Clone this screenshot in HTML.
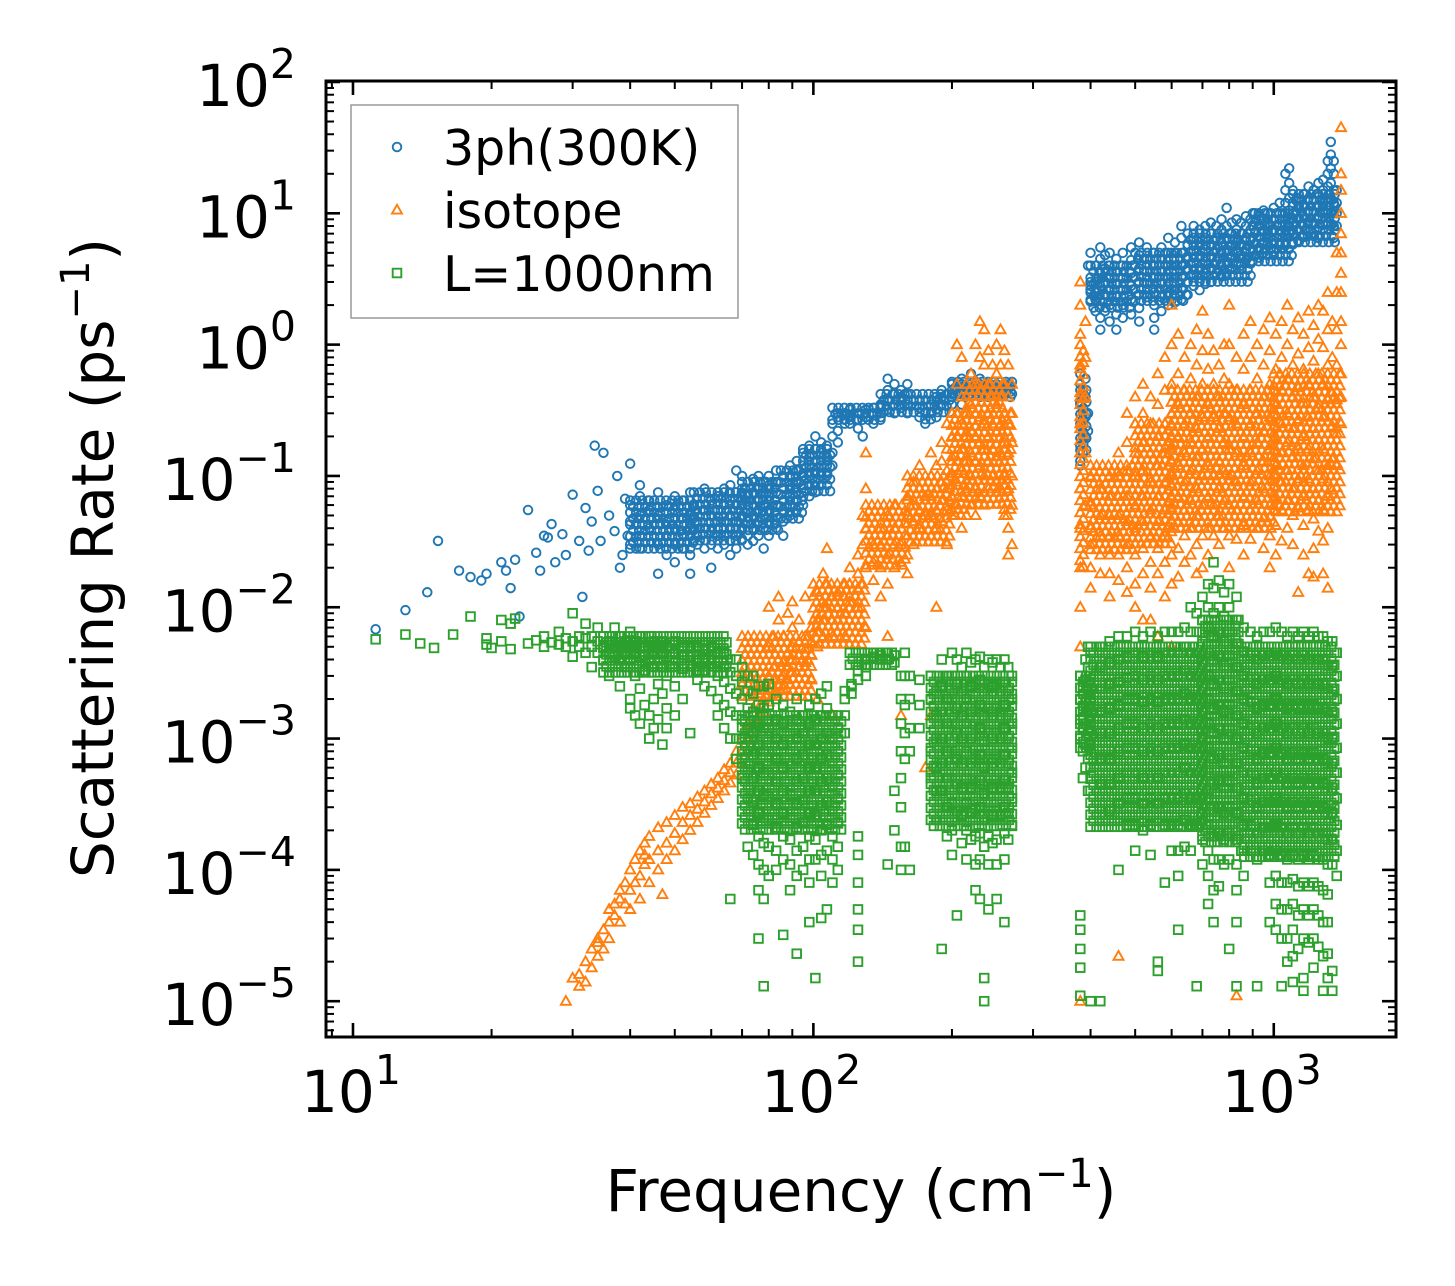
<!DOCTYPE html>
<html><head><meta charset="utf-8"><style>
html,body{margin:0;padding:0;background:#fff;}
svg{display:block;font-family:"DejaVu Sans","Liberation Sans",sans-serif;}
</style></head><body>
<svg id="chart" width="1455" height="1286" viewBox="0 0 1455 1286" xmlns="http://www.w3.org/2000/svg">
<rect width="1455" height="1286" fill="#fff"/>
<g id="marks"></g>
<g id="axes"></g>
</svg>
<script>
// ---- data: [frequency (cm^-1), [scattering rates (ps^-1)]] ----
const ph3Data = [
[11.2,[0.0068]],[13,[0.0095]],[14.5,[0.013]],[15.3,[0.032]],[17,[0.019]],[18,[0.017]],[19,[0.016]],[19.5,[0.018]],[21,[0.022]],[21.5,[0.019]],[22,[0.014]],[22.5,[0.023]],[23,[0.0085]],[24,[0.055]],[25,[0.026]],[25.5,[0.019]],[26,[0.035]],[26.5,[0.034]],[27,[0.043]],[27.5,[0.022]],[28.5,[0.036]],[29,[0.025]],[30,[0.072]],[31,[0.032]],[31.5,[0.012]],[32,[0.057]],[32.5,[0.027]],[33,[0.045]],[33.5,[0.17]],[34,[0.077]],[34.5,[0.032]],[35,[0.15]],[36,[0.05]],[37,[0.038]],[37.5,[0.1]],[38,[0.02]],[38.5,[0.025]],[39,[0.067]],[39.5,[0.035]],
[40,[0.124,0.06,0.045,0.03]],[42,[0.085,0.07,0.05,0.035,0.028]],[44,[0.055,0.04,0.065]],[46,[0.075,0.05,0.03,0.018]],[48,[0.06,0.045,0.035,0.025]],[50,[0.07,0.055,0.04,0.03,0.022]],[52,[0.065,0.048,0.036,0.028]],[54,[0.075,0.05,0.04,0.025,0.018]],[56,[0.06,0.045,0.035,0.03]],[58,[0.08,0.055,0.04,0.028]],[60,[0.065,0.05,0.038,0.03,0.02]],[62,[0.07,0.055,0.045,0.035,0.028]],[64,[0.08,0.06,0.045,0.035,0.03]],[66,[0.085,0.065,0.05,0.04,0.032,0.025]],[68,[0.11,0.075,0.06,0.045,0.035,0.028]],[70,[0.1,0.08,0.065,0.05,0.04,0.033]],[72,[0.09,0.07,0.055,0.045,0.035,0.03]],[74,[0.095,0.075,0.06,0.05,0.04,0.032]],[76,[0.1,0.08,0.065,0.055,0.045,0.035]],[78,[0.09,0.075,0.06,0.05,0.04,0.028]],[80,[0.1,0.085,0.07,0.055,0.045,0.035]],[83,[0.11,0.09,0.075,0.06,0.05,0.04]],[86,[0.1,0.08,0.065,0.055,0.045,0.035]],[89,[0.12,0.1,0.085,0.07,0.06,0.05]],[92,[0.13,0.11,0.09,0.075,0.065,0.055]],[95,[0.15,0.12,0.1,0.085,0.07,0.06]],[98,[0.17,0.14,0.12,0.1,0.085,0.07]],[101,[0.2,0.16,0.13,0.11,0.09,0.075]],[104,[0.18,0.15,0.12,0.1,0.085]],[107,[0.17,0.14,0.12,0.1]],[110,[0.25,0.2,0.15,0.12]],
[113,[0.28,0.22,0.18,0.3]],[117,[0.3,0.27,0.25]],[120,[0.32,0.28,0.25]],[125,[0.3,0.27,0.23]],[128,[0.2]],[130,[0.32,0.28,0.3]],[135,[0.33,0.3,0.25]],[140,[0.35,0.3,0.28]],[145,[0.55,0.45,0.38,0.32]],[150,[0.5,0.42,0.35,0.3]],[155,[0.45,0.4,0.33]],[160,[0.5,0.42,0.35,0.3]],[170,[0.38,0.33,0.28]],[175,[0.3,0.27,0.25]],[180,[0.35,0.3,0.27]],[185,[0.4,0.32,0.28]],[190,[0.45,0.4,0.35]],[200,[0.5,0.45,0.4,0.35]],[210,[0.55,0.5,0.42,0.35]],[220,[0.6,0.5,0.45]],[230,[0.55,0.5,0.45,0.4]],[240,[0.5,0.45,0.4]],[250,[0.5,0.45,0.42]],[260,[0.5,0.45,0.42]],[268,[0.48,0.44,0.4]],
[380,[0.6,0.5,0.35,0.25,0.17,0.13,0.12]],[385,[0.45,0.3,0.2,0.15]],[390,[0.55,0.4,0.28,0.2]],[395,[4,0.3,0.22]],[400,[5,3,2.5,2.2,2.8]],[410,[4,3,2.5,2.2,1.8]],[420,[5.5,4.5,3.5,2.8,2.2,1.6,1.3]],[430,[4.8,3.8,3,2.4,1.8]],[440,[5,4,3.2,2.6,2,1.5]],[455,[4.5,3.6,2.9,2.3,1.7,1.3]],[470,[5,4,3.2,2.6,2,1.6]],[490,[5.5,4.4,3.5,2.8,2.2,1.7]],[510,[6,4.8,3.8,3,2.4,1.9,1.5]],[530,[5.5,4.5,3.6,2.9,2.3]],[550,[5,4,3.2,2.5,2,1.6,1.3]],[570,[5.5,4.5,3.6,2.9,2.3,1.8]],[590,[6.5,5,4,3.2,2.5,2]],[610,[6,5,4,3.2,2.6,2.1]],[630,[8,6.5,5,4,3.3,2.7,2.2]],[650,[7,5.8,4.7,3.8,3,2.4]],[670,[8,6.5,5.2,4.2,3.4,2.8]],[690,[7.5,6,4.8,3.9,3.2,2.6]],[710,[8,6.5,5.3,4.3,3.5,2.9]],[730,[8.5,7,5.7,4.6,3.8,3]],[750,[8,6.5,5.3,4.3,3.5]],[770,[9,7.5,6,5,4,3.3]],[790,[11,8,6.5,5.3,4.3,3.5]],[810,[8.5,7,5.7,4.6,3.8]],[830,[9,7.5,6,5,4.2]],[850,[8.5,7,5.8,4.8,4]],[870,[9.5,8,6.5,5.3,4.4]],[890,[9,7.5,6.2,5.1,4.3]],[910,[10,8.5,7,5.8,4.8]],[930,[9.5,8,6.6,5.5,4.6]],[950,[10.5,8.8,7.3,6,5]],[970,[10,8.5,7,5.8,4.8]],[1000,[11,9,7.5,6.2,5.1]],[1030,[12,10,8.3,6.9,5.7]],[1060,[20,15,12,10,8.3,6.9,5.7]],[1080,[22,17,13,10.5,8.5,7]],[1100,[15,12,10,8.5,7,5.8]],[1130,[13,11,9,7.5,6.2]],[1160,[14,11.5,9.5,8,6.6]],[1190,[16,13,10.5,8.7,7.2]],[1220,[15,12.5,10.3,8.5,7]],[1250,[17,14,11.5,9.5,7.8,6.5]],[1280,[18,15,12,10,8.2]],[1310,[25,20,16,13,10.5,8.5]],[1330,[35,28,22,17,13,10,8]],[1350,[25,20,15,12,10,8,6.5]],[1370,[15,12,10,8]]
];
const isoData = [
[29,[1e-5]],[30,[1.5e-5]],[31,[1.6e-5,1.3e-5]],[32,[1.4e-5,2e-5]],[33,[1.8e-5,2.5e-5]],[34,[2.8e-5,3e-5,2.2e-5]],[35,[3.5e-5,2.5e-5]],[36,[4e-5,5e-5,3e-5]],[37,[5.5e-5,4.5e-5]],[38,[7e-5,6e-5,4e-5]],[39,[8e-5,5.5e-5]],[40,[1e-4,7e-5,5e-5]],[41,[1.2e-4,8e-5]],[42,[1.4e-4,9e-5,6e-5]],[43,[1.6e-4,1.1e-4,1.3e-4]],[44,[1.8e-4,1.2e-4,8e-5]],[46,[2.1e-4,1.4e-4,1e-4]],[47,[6.5e-5]],[48,[2.3e-4,1.6e-4,1.2e-4]],[50,[2.6e-4,1.9e-4,1.4e-4]],[52,[3e-4,2.3e-4,1.7e-4]],[54,[3.2e-4,2.6e-4,2e-4]],[56,[3.6e-4,2.9e-4,2.3e-4]],[58,[4e-4,3.3e-4,2.7e-4]],[60,[4.5e-4,3.8e-4,3.1e-4]],[62,[5e-4,4.2e-4,3.5e-4]],[64,[5.8e-4,4.8e-4,4e-4]],[66,[6.5e-4,5.5e-4,4.6e-4]],[68,[8e-4,6.5e-4,5.3e-4]],[70,[1e-3,8e-4,6.5e-4]],[72,[1.3e-3,1e-3,8e-4]],[74,[1.7e-3,1.3e-3,1e-3]],[76,[2.2e-3,1.7e-3,1.3e-3]],[78,[2.5e-3,2e-3,1.6e-3]],[80,[3e-3,2.4e-3,1.9e-3,5e-3,1e-2]],[82,[3.5e-3,2.8e-3,2.2e-3,6e-3]],[84,[4e-3,3.2e-3,2.5e-3,1.2e-2,8e-3]],[86,[3.8e-3,3e-3,2.4e-3,6e-3]],[88,[4.5e-3,3.5e-3,2.8e-3,9e-3]],[90,[5e-3,4e-3,3.2e-3,7e-3,1.1e-2]],[93,[5.5e-3,4.3e-3,3.5e-3,8e-3]],[96,[6e-3,4.8e-3,3.8e-3,1.2e-2]],[99,[7e-3,5.5e-3,4.3e-3,2.8e-3]],[102,[8e-3,6.5e-3,5e-3,1.3e-2,2e-3]],[105,[1e-2,8e-3,6e-3,1.8e-2]],[107,[1.5e-2,1e-2,2.8e-2]],[110,[1.2e-2,8e-3,6e-3,1.5e-3]],[113,[1.3e-2,1e-2,8e-3]],[117,[1.5e-2,1.2e-2,9e-3,6e-3]],[120,[2e-2,1.5e-2,1.1e-2]],[125,[2.5e-2,1.8e-2,1.4e-2,1e-2]],[128,[5e-2,3e-2,1.5e-2]],[130,[1.5e-1,8e-2,4e-2,2e-2,7e-3]],[135,[3e-2,2.2e-2,1.6e-2]],[140,[4e-2,3e-2,2e-2,1.2e-2]],[145,[5e-2,3.5e-2,2.5e-2,1.5e-2,6e-3]],[150,[6e-2,4e-2,3e-2,2e-2]],[155,[3e-2,2.2e-2,1.5e-3]],[160,[7e-2,5e-2,3.5e-2,2.5e-2,1.8e-2]],[165,[9e-2,6e-2,4.5e-2,3e-2]],[170,[1.2e-1,8e-2,5.5e-2,4e-2]],[175,[7e-2,5e-2,3.5e-2,6e-4]],[180,[1.5e-1,1e-1,7e-2,5e-2,3.5e-2,1.5e-3]],[185,[1.2e-1,8e-2,5.5e-2,4e-2,1e-2]],[190,[1.8e-1,1.3e-1,9e-2,6.5e-2,4.5e-2]],[195,[2.5e-1,1.6e-1,1.1e-1,8e-2,5.5e-2,3e-2]],[200,[3e-1,2e-1,1.4e-1,1e-1,7e-2,5e-2]],[205,[1,5e-1,3e-1,2e-1,1.3e-1,9e-2,6e-2]],[210,[8e-1,4e-1,2.5e-1,1.6e-1,1.1e-1,7e-2,4e-2]],[215,[5e-1,3e-1,2e-1,1.3e-1,8e-2,5e-2]],[220,[6e-1,3.5e-1,2.2e-1,1.5e-1,1e-1,6e-2]],[225,[1,5e-1,3e-1,2e-1,1.3e-1,8e-2,5e-2]],[230,[1.5,8e-1,4.5e-1,2.8e-1,1.8e-1,1.2e-1,7e-2]],[235,[1.3,7e-1,4e-1,2.5e-1,1.6e-1,1e-1,6e-2]],[240,[9e-1,5e-1,3e-1,2e-1,1.3e-1,8e-2]],[245,[7e-1,4e-1,2.5e-1,1.6e-1,1e-1]],[250,[1,6e-1,3.5e-1,2.2e-1,1.4e-1,9e-2]],[255,[1.3,7e-1,4e-1,2.5e-1,1.5e-1,8e-2]],[260,[9e-1,5e-1,3e-1,1.8e-1,1e-1,5e-2]],[265,[7e-1,4e-1,2.5e-1,1.5e-1,8e-2,4e-2,2.5e-2]],[270,[5e-1,3e-1,1.8e-1,1e-1,6e-2,3e-2]],
[380,[3,2,1.2,7e-1,4e-1,2.5e-1,1.5e-1,8e-2,4e-2,2e-2,1e-2,5e-3,1e-5]],[390,[1.5,8e-1,4e-1,1.5e-1,6e-2]],[400,[1e-1,6e-2,4e-2,3e-2,2e-2,1.4e-2]],[420,[8e-2,5e-2,3.5e-2,2.5e-2,1.8e-2]],[440,[1e-1,7e-2,5e-2,3.5e-2,2.5e-2,1.8e-2,1.2e-2]],[460,[1.5e-1,1e-1,7e-2,5e-2,3.5e-2,2.5e-2,1.6e-2,2.2e-5]],[480,[3e-1,1.8e-1,1.1e-1,7e-2,4.5e-2,3e-2,2e-2,1.3e-2]],[500,[4e-1,2.5e-1,1.5e-1,1e-1,6e-2,4e-2,2.5e-2,1.5e-2,1e-2]],[520,[5e-1,3e-1,1.8e-1,1.1e-1,7e-2,4.5e-2,2.8e-2,1.8e-2,8e-3]],[540,[4e-1,2.5e-1,1.5e-1,9e-2,5.5e-2,3.5e-2,2.2e-2,1.4e-2,8e-3]],[560,[6e-1,3.5e-1,2e-1,1.2e-1,7e-2,4.5e-2,2.8e-2,1.8e-2,6e-3]],[580,[8e-1,4.5e-1,2.5e-1,1.5e-1,9e-2,5.5e-2,3.5e-2,2.2e-2,1.2e-2]],[600,[2,1,5e-1,3e-1,1.7e-1,1e-1,6e-2,4e-2,2.5e-2,1.5e-2,5e-3]],[620,[1.2,6e-1,3.5e-1,2e-1,1.2e-1,7e-2,4.5e-2,2.8e-2,1.7e-2]],[640,[8e-1,4.5e-1,2.5e-1,1.5e-1,9e-2,5.5e-2,3.5e-2,2.2e-2]],[660,[1,5.5e-1,3e-1,1.8e-1,1.1e-1,6.5e-2,4e-2,2.5e-2]],[680,[1.3,7e-1,4e-1,2.3e-1,1.4e-1,8e-2,5e-2,3e-2,1.8e-2]],[700,[1.8,9e-1,5e-1,2.8e-1,1.6e-1,1e-1,6e-2,3.5e-2,2e-2]],[720,[1.2,6.5e-1,3.5e-1,2e-1,1.2e-1,7e-2,4e-2,2.5e-2]],[740,[9e-1,5e-1,2.8e-1,1.6e-1,1e-1,6e-2,3.5e-2]],[760,[7e-1,4e-1,2.3e-1,1.3e-1,8e-2,5e-2,3e-2]],[780,[1,5.5e-1,3e-1,1.8e-1,1.1e-1,6.5e-2,4e-2]],[800,[2,1,5e-1,2.8e-1,1.6e-1,1e-1,6e-2,3.5e-2,2e-2]],[830,[8e-1,4.5e-1,2.5e-1,1.5e-1,9e-2,5.5e-2,3.3e-2,1.1e-5]],[860,[1.2,6.5e-1,3.5e-1,2e-1,1.2e-1,7e-2,4.2e-2,2.5e-2]],[890,[1.5,8e-1,4.5e-1,2.5e-1,1.5e-1,9e-2,5.5e-2,3.3e-2]],[920,[1,5.5e-1,3e-1,1.8e-1,1.1e-1,6.5e-2,4e-2]],[950,[1.3,7e-1,4e-1,2.2e-1,1.3e-1,8e-2,4.8e-2,2.8e-2]],[980,[1.6,9e-1,5e-1,2.8e-1,1.6e-1,1e-1,6e-2,3.5e-2,2e-2]],[1010,[1.2,6.5e-1,3.5e-1,2e-1,1.2e-1,7e-2,4.2e-2,2.5e-2]],[1040,[1.5,8e-1,4.5e-1,2.5e-1,1.5e-1,9e-2,5.5e-2,3.2e-2]],[1070,[2,1,5.5e-1,3e-1,1.8e-1,1.1e-1,6.5e-2,4e-2]],[1100,[1.3,7e-1,4e-1,2.3e-1,1.4e-1,8e-2,5e-2,3e-2]],[1130,[1.6,8.5e-1,4.7e-1,2.7e-1,1.6e-1,9.5e-2,5.7e-2,1.3e-2]],[1160,[1.2,6.5e-1,3.6e-1,2e-1,1.2e-1,7e-2,4.2e-2,2.5e-2]],[1190,[1.8,9.5e-1,5e-1,2.8e-1,1.6e-1,9.5e-2,5.5e-2,1.8e-2]],[1220,[1.4,7.5e-1,4e-1,2.3e-1,1.35e-1,8e-2,4.7e-2,2.8e-2,1.7e-2]],[1250,[2,1.1,6e-1,3.3e-1,1.9e-1,1.1e-1,6.5e-2,3.8e-2]],[1280,[1.8,9.5e-1,5e-1,2.8e-1,1.6e-1,9.5e-2,5.5e-2,3.2e-2,1.8e-2]],[1310,[2.5,1.3,7e-1,3.8e-1,2.1e-1,1.2e-1,7e-2,4e-2,1.4e-2]],[1340,[1.5,8e-1,4.3e-1,2.4e-1,1.35e-1,7.8e-2]],[1370,[5,2.5,1.3,7e-1,3.8e-1,2.1e-1,1.2e-1]],[1400,[45,20,15,10,7,5,3.5,2.5,1.5,1,6e-1,4e-1,2.5e-1]]
];
const bdyData = [
[11.2,[5.7e-3]],[13,[6.2e-3]],[14,[5.3e-3]],[15,[4.9e-3]],[16.5,[6.2e-3]],[18,[8.5e-3]],[19.5,[5.8e-3,5.2e-3]],[20,[4.9e-3]],[21,[8e-3,5.5e-3]],[22,[7.5e-3,4.8e-3]],[22.5,[8.2e-3]],[24,[5.3e-3]],[25,[5.6e-3]],[26,[6e-3,5e-3]],[27,[5.4e-3]],[28,[6.5e-3,5.2e-3]],[29,[5e-3,5.8e-3]],[30,[9e-3,5.5e-3,4.2e-3]],[31,[6e-3,5e-3]],[32,[7.5e-3,5.8e-3,4.5e-3]],[33,[6e-3,5e-3,3.5e-3]],[34,[7e-3,5.5e-3,4.5e-3]],[35,[6e-3,5e-3,4e-3]],[36,[5.5e-3,4.5e-3,3e-3]],[37,[7e-3,5e-3,4.2e-3]],[38,[6e-3,5e-3,4e-3,2.5e-3]],[39,[5.5e-3,4.5e-3,3.5e-3]],[40,[6.5e-3,5e-3,4e-3,2e-3,1.7e-3]],[41,[5.5e-3,4.5e-3,3e-3,1.5e-3]],[42,[6e-3,5e-3,4.2e-3,2.4e-3,1.3e-3]],[43,[5e-3,4.3e-3,3.3e-3,1.8e-3]],[44,[6e-3,5e-3,4e-3,1.5e-3,1e-3]],[45,[5.5e-3,4.5e-3,3.5e-3,2e-3,1.2e-3]],[46,[5e-3,4e-3,2.6e-3,1.4e-3]],[47,[5.5e-3,4.5e-3,3.5e-3,2.2e-3,9e-4]],[48,[5e-3,4.2e-3,3e-3,1.7e-3,1.2e-3]],[50,[5.5e-3,4.5e-3,3.5e-3,2.5e-3,1.5e-3]],[52,[5e-3,4.3e-3,3.4e-3,2e-3]],[54,[5e-3,4.2e-3,3.2e-3,1.1e-3]],[56,[5e-3,4e-3,3.3e-3,2.8e-3]],[58,[4.8e-3,4e-3,3.3e-3,2.5e-3]],[60,[5e-3,4e-3,3.2e-3,2.3e-3]],[62,[4.5e-3,3.8e-3,3e-3,2e-3,1.5e-3]],[64,[4.5e-3,3.5e-3,2.7e-3,1.8e-3,1.2e-3]],[66,[4e-3,3.2e-3,2.4e-3,1.6e-3,1e-3,6e-5]],[68,[4e-3,3e-3,2.2e-3,1.5e-3,1e-3,7e-4]],[70,[3.5e-3,2.7e-3,2e-3,1.4e-3,1e-3,7e-4,5e-4]],[72,[3e-3,2.3e-3,1.7e-3,1.2e-3,8e-4,5.5e-4,3.5e-4,1.5e-4]],[74,[3e-3,2.2e-3,1.6e-3,1.1e-3,7.5e-4,5e-4,3.3e-4,2.2e-4,1.3e-4]],[76,[2.5e-3,1.8e-3,1.3e-3,9e-4,6e-4,4e-4,2.7e-4,1.8e-4,1.1e-4,7e-5,3e-5]],[78,[2.5e-3,1.7e-3,1.2e-3,8e-4,5.5e-4,3.7e-4,2.5e-4,1.6e-4,1e-4,6e-5,1.3e-5]],[80,[2.6e-3,1.8e-3,1.2e-3,8e-4,5.5e-4,3.6e-4,2.4e-4,1.5e-4,9e-5]],[83,[2e-3,1.4e-3,1e-3,7e-4,4.7e-4,3.2e-4,2.1e-4,1.4e-4,1e-4]],[86,[1.8e-3,1.3e-3,9e-4,6e-4,4e-4,2.7e-4,1.8e-4,1.2e-4,3.2e-5]],[89,[1.6e-3,1.1e-3,8e-4,5.5e-4,3.7e-4,2.5e-4,1.7e-4,1.1e-4,7e-5]],[92,[2e-3,1.4e-3,1e-3,7e-4,4.7e-4,3.2e-4,2.1e-4,1.4e-4,9e-5,2.3e-5]],[95,[1.5e-3,1.1e-3,7.5e-4,5e-4,3.4e-4,2.3e-4,1.5e-4,1e-4]],[98,[1.8e-3,1.3e-3,9e-4,6e-4,4e-4,2.7e-4,1.8e-4,1.2e-4,8e-5,4e-5]],[101,[2e-3,1.4e-3,9e-4,6e-4,4e-4,2.6e-4,1.7e-4,1.2e-4,1.5e-5]],[104,[2.2e-3,1.5e-3,1e-3,7e-4,4.7e-4,3.1e-4,2e-4,1.3e-4,9e-5,4.3e-5]],[107,[2.5e-3,1.7e-3,1.1e-3,7.5e-4,5e-4,3.3e-4,2.2e-4,1.4e-4,5e-5]],[110,[1.5e-3,1e-3,6.5e-4,4.3e-4,2.8e-4,1.8e-4,1.2e-4,8e-5]],[113,[1.2e-3,8e-4,5.3e-4,3.5e-4,2.3e-4,1.5e-4,1e-4]],[117,[2e-3,1.5e-3,1.1e-3,2.3e-3]],[121,[2.6e-3,2.2e-3,2.5e-3]],[125,[2.8e-3,3.3e-3,1.8e-4,1.3e-4,8e-5,5e-5,3.5e-5,2e-5]],[130,[3.5e-3,4e-3,3e-3]],[135,[4.2e-3,4.5e-3]],[140,[4.3e-3,4e-3]],[145,[4.5e-3,4e-3,1.1e-4]],[150,[4.3e-3,3.8e-3,4e-4,2e-4]],[155,[3e-3,2e-3,1.3e-3,8e-4,5e-4,3e-4,1.5e-4,1e-4]],[158,[4.5e-3,3e-3,1.8e-3,1.1e-3,7e-4,1.5e-4]],[162,[3e-3,2e-3,1.2e-3,8e-4,1e-4]],[170,[2.8e-3,1.8e-3,1.2e-3]],[180,[3e-3,2e-3,1.3e-3,8e-4,5e-4]],[185,[2.3e-3,1.5e-3,1e-3,6e-4,4e-4,2.4e-4]],[190,[4e-3,2.5e-3,1.6e-3,1e-3,6.5e-4,4e-4,2.5e-5]],[195,[3e-3,2e-3,1.3e-3,8e-4,5e-4,3e-4,1.8e-4]],[200,[4.5e-3,3e-3,2e-3,1.3e-3,8e-4,5e-4,3.2e-4,2e-4,1.3e-4]],[205,[4e-3,2.6e-3,1.7e-3,1.1e-3,7e-4,4.5e-4,2.8e-4,4.5e-5]],[210,[3.5e-3,2.3e-3,1.5e-3,1e-3,6.5e-4,4.2e-4,2.6e-4,1.6e-4]],[215,[4.5e-3,3e-3,2e-3,1.3e-3,8e-4,5e-4,3.2e-4,2e-4,1.2e-4]],[220,[3.8e-3,2.5e-3,1.6e-3,1e-3,6.5e-4,4.2e-4,2.7e-4,1.7e-4]],[225,[4e-3,2.6e-3,1.7e-3,1.1e-3,7e-4,4.5e-4,2.9e-4,1.8e-4,1.1e-4,7e-5]],[230,[4.2e-3,2.8e-3,1.8e-3,1.2e-3,7.5e-4,4.8e-4,3e-4,1.9e-4,1.2e-4,6e-5]],[235,[3.5e-3,2.3e-3,1.5e-3,9.5e-4,6e-4,3.8e-4,2.4e-4,1.5e-4,1e-5,1.5e-5]],[240,[4e-3,2.6e-3,1.7e-3,1.1e-3,7e-4,4.5e-4,2.8e-4,1.8e-4,1.1e-4,5e-5]],[245,[3.8e-3,2.5e-3,1.6e-3,1e-3,6.5e-4,4.2e-4,2.6e-4,1.6e-4]],[250,[4e-3,2.6e-3,1.7e-3,1.1e-3,7e-4,4.5e-4,2.8e-4,1.7e-4,1.1e-4,6e-5]],[255,[3.5e-3,2.3e-3,1.5e-3,1e-3,6.5e-4,4.2e-4,2.6e-4]],[260,[4e-3,2.7e-3,1.8e-3,1.2e-3,7.5e-4,4.8e-4,3e-4,1.9e-4,1.2e-4,4e-5]],[265,[3.5e-3,2.3e-3,1.5e-3,1e-3,6.5e-4,4.2e-4,2.7e-4,1.7e-4]],[270,[3e-3,2e-3,1.3e-3,8.5e-4,5.5e-4,3.5e-4,2.2e-4]],
[380,[3e-3,2e-3,1.4e-3,1e-3,4.5e-5,3.5e-5,2.5e-5,1.8e-5,1.1e-5]],[385,[2.5e-3,1.7e-3,1.2e-3,8e-4,5e-4]],[390,[4e-3,2.8e-3,1.9e-3,1.3e-3,9e-4,6e-4]],[395,[5e-3,3.5e-3,2.4e-3,1.6e-3,1.1e-3,7e-4,4e-4]],[400,[4.5e-3,3e-3,2e-3,1.4e-3,9e-4,6e-4,1e-5]],[420,[5e-3,3.5e-3,2.4e-3,1.6e-3,1.1e-3,7e-4,4.5e-4,1e-5]],[440,[5.5e-3,3.8e-3,2.6e-3,1.7e-3,1.1e-3,7e-4,4.5e-4,2.8e-4]],[460,[6e-3,4e-3,2.7e-3,1.8e-3,1.2e-3,8e-4,5e-4,3.2e-4,1e-4]],[480,[6e-3,4.2e-3,2.9e-3,2e-3,1.3e-3,8.5e-4,5.5e-4,3.5e-4,2.2e-4]],[500,[6.5e-3,4.5e-3,3e-3,2e-3,1.3e-3,8.5e-4,5.5e-4,3.5e-4,2.2e-4,1.4e-4]],[520,[6e-3,4.2e-3,2.8e-3,1.9e-3,1.2e-3,8e-4,5e-4,3.2e-4,2e-4]],[540,[6.5e-3,4.5e-3,3e-3,2e-3,1.3e-3,8.5e-4,5.5e-4,3.5e-4,2.2e-4,1.3e-4]],[560,[6e-3,4.2e-3,2.8e-3,1.9e-3,1.2e-3,8e-4,5e-4,3.2e-4,2e-5,1.7e-5]],[580,[6.5e-3,4.5e-3,3e-3,2e-3,1.3e-3,8.5e-4,5.5e-4,3.5e-4,2.2e-4,8e-5]],[600,[6.5e-3,4.5e-3,3e-3,2e-3,1.3e-3,8.5e-4,5.5e-4,3.5e-4,2.2e-4,1.4e-4]],[620,[6.5e-3,4.5e-3,3e-3,2e-3,1.3e-3,8.5e-4,5.5e-4,3.5e-4,2.2e-4,1.4e-4,9e-5,3.5e-5]],[640,[7e-3,5e-3,3.3e-3,2.2e-3,1.4e-3,9e-4,6e-4,3.8e-4,2.4e-4,1.5e-4]],[660,[1e-2,6.5e-3,4.5e-3,3e-3,2e-3,1.3e-3,8.5e-4,5.5e-4,3.5e-4,2.2e-4,1.4e-4]],[680,[9e-3,6.5e-3,4.5e-3,3e-3,2e-3,1.3e-3,8.5e-4,5.5e-4,3.5e-4,2.2e-4,1.3e-5]],[700,[1.2e-2,8e-3,5.5e-3,3.8e-3,2.5e-3,1.6e-3,1e-3,6.5e-4,4.2e-4,2.7e-4,1.7e-4,1.1e-4]],[720,[1.5e-2,1e-2,7e-3,4.5e-3,3e-3,2e-3,1.3e-3,8.5e-4,5.5e-4,3.5e-4,2.2e-4,1.4e-4,9e-5,5.5e-5]],[740,[2.2e-2,1.4e-2,9e-3,6e-3,4e-3,2.6e-3,1.7e-3,1.1e-3,7e-4,4.5e-4,2.9e-4,1.8e-4,1.2e-4,7e-5,4e-5]],[760,[1.6e-2,1e-2,6.5e-3,4.3e-3,2.8e-3,1.8e-3,1.2e-3,7.5e-4,4.8e-4,3e-4,1.9e-4,1.2e-4,7.5e-5]],[780,[1.3e-2,8.5e-3,5.5e-3,3.6e-3,2.4e-3,1.6e-3,1e-3,6.5e-4,4.2e-4,2.7e-4,1.7e-4,1.1e-4]],[800,[1.5e-2,1e-2,6.5e-3,4.3e-3,2.8e-3,1.8e-3,1.2e-3,7.5e-4,4.8e-4,3e-4,1.9e-4,1.2e-4,2.5e-5]],[830,[1.2e-2,8e-3,5.3e-3,3.5e-3,2.3e-3,1.5e-3,1e-3,6.5e-4,4.2e-4,2.7e-4,1.7e-4,1.1e-4,7e-5,4e-5,1.3e-5]],[860,[7e-3,4.6e-3,3e-3,2e-3,1.3e-3,8.5e-4,5.5e-4,3.5e-4,2.2e-4,1.4e-4,9e-5]],[890,[6.5e-3,4.3e-3,2.8e-3,1.9e-3,1.2e-3,8e-4,5.2e-4,3.4e-4,2.2e-4,1.4e-4]],[920,[6e-3,4e-3,2.6e-3,1.7e-3,1.1e-3,7e-4,4.6e-4,3e-4,1.9e-4,1.2e-4,1.3e-5]],[950,[6.5e-3,4.3e-3,2.8e-3,1.8e-3,1.2e-3,7.8e-4,5e-4,3.3e-4,2.1e-4,1.4e-4]],[980,[6.5e-3,4.3e-3,2.8e-3,1.8e-3,1.2e-3,7.8e-4,5e-4,3.3e-4,2.1e-4,1.3e-4,8e-5,4e-5]],[1010,[7e-3,4.5e-3,3e-3,2e-3,1.3e-3,8.5e-4,5.5e-4,3.5e-4,2.2e-4,1.4e-4,9e-5,5.5e-5,3.5e-5]],[1040,[6.5e-3,4.3e-3,2.8e-3,1.8e-3,1.2e-3,7.8e-4,5e-4,3.3e-4,2.1e-4,1.3e-4,8e-5,5e-5,3e-5,1.3e-5]],[1070,[6e-3,4e-3,2.6e-3,1.7e-3,1.1e-3,7e-4,4.6e-4,3e-4,1.9e-4,1.2e-4,8e-5,5e-5,3e-5,2e-5]],[1100,[6.5e-3,4.3e-3,2.8e-3,1.8e-3,1.2e-3,7.8e-4,5e-4,3.3e-4,2.1e-4,1.3e-4,8.5e-5,5.5e-5,3.5e-5,2.2e-5,1.4e-5]],[1130,[6e-3,4e-3,2.6e-3,1.7e-3,1.1e-3,7e-4,4.6e-4,3e-4,1.9e-4,1.2e-4,7.5e-5,4.5e-5,2.5e-5]],[1160,[6.5e-3,4.3e-3,2.8e-3,1.8e-3,1.2e-3,7.8e-4,5e-4,3.3e-4,2.1e-4,1.3e-4,8e-5,5e-5,3e-5,1.5e-5,1.2e-5]],[1190,[6e-3,4e-3,2.6e-3,1.7e-3,1.1e-3,7e-4,4.6e-4,3e-4,1.9e-4,1.2e-4,7.5e-5,4.5e-5,2.8e-5]],[1220,[6.5e-3,4.3e-3,2.8e-3,1.8e-3,1.2e-3,7.8e-4,5e-4,3.3e-4,2.1e-4,1.3e-4,8e-5,5e-5,3e-5,1.8e-5]],[1250,[6e-3,4e-3,2.6e-3,1.7e-3,1.1e-3,7e-4,4.6e-4,3e-4,1.9e-4,1.2e-4,7.5e-5,4.5e-5,2.6e-5]],[1280,[6e-3,4e-3,2.6e-3,1.7e-3,1.1e-3,7e-4,4.6e-4,3e-4,1.9e-4,1.2e-4,7e-5,4e-5,2.2e-5,1.2e-5]],[1310,[5.5e-3,3.6e-3,2.4e-3,1.6e-3,1e-3,6.5e-4,4.2e-4,2.7e-4,1.7e-4,1.1e-4,6.5e-5,4e-5,2.3e-5,1.5e-5]],[1340,[5.5e-3,3.6e-3,2.4e-3,1.6e-3,1e-3,6.5e-4,4.2e-4,2.7e-4,1.7e-4,1.1e-4,1.7e-5,1.2e-5]],[1370,[4.5e-3,3e-3,2e-3,1.3e-3,8.5e-4,5.5e-4,3.5e-4,2.2e-4,1.4e-4,9e-5]]
];
// dense-region envelopes: [freqStart, freqEnd, rateLow, rateHigh]
const ph3Dense = [[40,55,0.028,0.065],[55,70,0.03,0.075],[70,85,0.035,0.09],[85,95,0.045,0.11],[95,110,0.07,0.16],[110,140,0.25,0.33],[140,200,0.28,0.42],[200,270,0.38,0.52],[380,395,0.15,0.45],[400,500,1.8,4],[500,650,2,5],[650,900,2.8,7],[900,1100,4,10],[1100,1370,6,14]];
const isoDense = [[70,100,0.002,0.006],[100,130,0.005,0.015],[130,160,0.02,0.06],[160,200,0.03,0.1],[200,215,0.05,0.3],[215,260,0.06,0.5],[260,270,0.05,0.3],[380,390,0.02,1],[400,500,0.025,0.12],[500,600,0.03,0.25],[600,1000,0.04,0.45],[1000,1400,0.05,0.6]];
const bdyDense = [[35,65,0.003,0.006],[70,115,2e-4,1.5e-3],[120,150,3.5e-3,4.5e-3],[180,270,2e-4,3e-3],[380,400,8e-4,3e-3],[400,700,2e-4,5e-3],[700,850,1.5e-4,8e-3],[850,1370,1.2e-4,5e-3]];
const xTickExps = [1, 2, 3];
const yTickExps = [2, 1, 0, -1, -2, -3, -4, -5];
const seriesNames = ['3ph(300K)', 'isotope', 'L=1000nm'];

// ---- axes geometry ----
const PL = 326, PR = 1396, PT = 81, PB = 1037;
const XMIN = 0.9414, XMAX = 3.2655;
const YMIN = -5.2727, YMAX = 2.0076;
function xs(v){ return PL + (Math.log10(v) - XMIN) / (XMAX - XMIN) * (PR - PL); }
function ys(v){ return PB - (Math.log10(v) - YMIN) / (YMAX - YMIN) * (PB - PT); }

const NS = 'http://www.w3.org/2000/svg';
function mk(tag, attrs, parent){
  const e = document.createElementNS(NS, tag);
  for (const k in attrs) e.setAttribute(k, attrs[k]);
  parent.appendChild(e); return e;
}
const marks = document.getElementById('marks');
const axes = document.getElementById('axes');
const COLORS = ['#1f77b4', '#ff7f0e', '#2ca02c'];

function marker(kind, cx, cy, color, parent){
  let e;
  if (kind === 0) e = mk('circle', {cx: cx, cy: cy, r: 4.3, fill: 'none', stroke: color, 'stroke-width': 1.9}, parent);
  else if (kind === 1) e = mk('path', {d: `M${cx},${cy-5.2}L${cx+5},${cy+3.6}L${cx-5},${cy+3.6}Z`, fill: 'none', stroke: color, 'stroke-width': 1.9}, parent);
  else e = mk('rect', {x: cx-4.3, y: cy-4.3, width: 8.6, height: 8.6, fill: 'none', stroke: color, 'stroke-width': 1.9}, parent);
  return e;
}

const allSeries = [ph3Data, isoData, bdyData];
const allDense = [ph3Dense, isoDense, bdyDense];
const seriesKeys = ['3ph-points', 'isotope-points', 'boundary-points'];
allSeries.forEach((data, si) => {
  const g = mk('g', {}, marks);
  
  
  allDense[si].forEach(([f0, f1, lo, hi]) => {
    const x0 = xs(f0), x1 = xs(f1), yTop = ys(hi), yBot = ys(lo);
    let row = 0;
    for (let y = yTop; y <= yBot + 0.1; y += 6, row++) {
      for (let x = x0 + (row % 2) * 3; x <= x1 + 0.1; x += 6) {
        const m = marker(si, x, y, COLORS[si], g);
        
        
      }
    }
  });
  data.forEach(([f, rates]) => {
    rates.forEach(r => {
      const m = marker(si, xs(f), ys(r), COLORS[si], g);
      
      
    });
  });
});

const frame = mk('rect', {x: PL, y: PT, width: PR-PL, height: PB-PT, fill: 'none', stroke: '#000', 'stroke-width': 3}, axes);



function tick(x1, y1, x2, y2, w){ const t = mk('line', {x1, y1, x2, y2, stroke: '#000', 'stroke-width': w}, axes);
  
   }
for (let d = 0; d <= 3; d++){
  for (let m = 1; m <= 9; m++){
    const v = m * Math.pow(10, d); const lv = Math.log10(v);
    if (lv < XMIN || lv > XMAX) continue;
    const x = xs(v); const L = m === 1 ? 14 : 8; const w = m === 1 ? 2.6 : 2;
    tick(x, PB, x, PB-L, w); tick(x, PT, x, PT+L, w);
  }
}
for (let d = -6; d <= 2; d++){
  for (let m = 1; m <= 9; m++){
    const v = m * Math.pow(10, d); const lv = Math.log10(v);
    if (lv < YMIN || lv > YMAX) continue;
    const y = ys(v); const L = m === 1 ? 14 : 8; const w = m === 1 ? 2.6 : 2;
    tick(PL, y, PL+L, y, w); tick(PR, y, PR-L, y, w);
  }
}
function expLabel(x, y, anchor, exp, name){
  const t = mk('text', {x: x, y: y, 'text-anchor': anchor, 'font-size': 58, fill: '#000'}, axes);
  
  
  const a = mk('tspan', {}, t); a.textContent = '10';
  const b = mk('tspan', {dy: -28, 'font-size': 41}, t);
  b.textContent = (exp < 0 ? '\u2212' : '') + Math.abs(exp);
}
xTickExps.forEach(e => expLabel(xs(Math.pow(10, e)) - 2, 1112, 'middle', e, 'x-tick-label'));
yTickExps.forEach(e => expLabel(296, ys(Math.pow(10, e)) + 24, 'end', e, 'y-tick-label'));

const xt = mk('text', {x: 861, y: 1211, 'text-anchor': 'middle', 'font-size': 58}, axes);


mk('tspan', {}, xt).textContent = 'Frequency (cm';
mk('tspan', {dy: -24, 'font-size': 40}, xt).textContent = '\u22121';
mk('tspan', {dy: 24}, xt).textContent = ')';
const yt = mk('text', {x: 0, y: 0, 'text-anchor': 'middle', 'font-size': 58, transform: 'translate(113,558) rotate(-90)'}, axes);


mk('tspan', {}, yt).textContent = 'Scattering Rate (ps';
mk('tspan', {dy: -24, 'font-size': 40}, yt).textContent = '\u22121';
mk('tspan', {dy: 24}, yt).textContent = ')';

const lg = mk('g', {}, axes);


mk('rect', {x: 351, y: 105, width: 387, height: 213, fill: '#fff', 'fill-opacity': 0.8, stroke: '#999', 'stroke-width': 1.5}, lg);
seriesNames.forEach((n, i) => {
  const cy = 147 + i * 63;
  const e = mk('g', {}, lg);
  
  
  marker(i, 397, cy, COLORS[i], e);
  const t = mk('text', {x: 443, y: cy + 18, 'font-size': 49}, e);
  t.textContent = n;
});
</script>
</body></html>
